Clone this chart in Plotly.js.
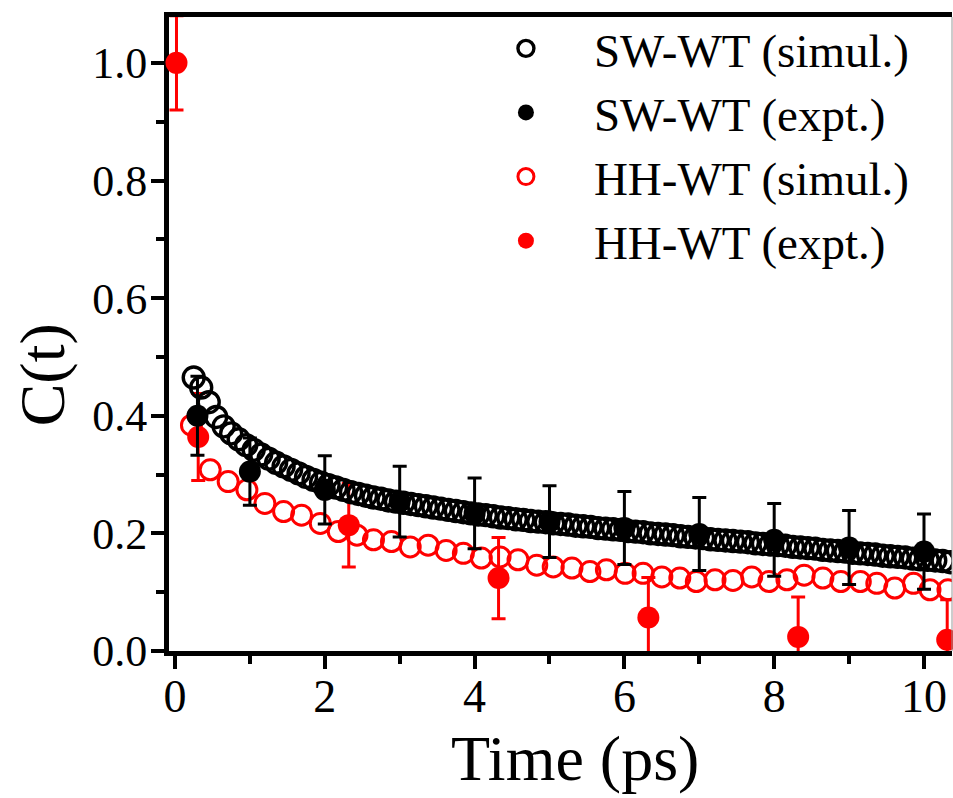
<!DOCTYPE html>
<html>
<head>
<meta charset="utf-8">
<script src="https://cdn.plot.ly/plotly-3.0.1.min.js"></script>
<style>html,body{margin:0;padding:0;background:#fff;}#chart{width:953px;height:798px;}</style>
</head>
<body>
<div id="chart"></div>
<script>
// SW-WT simulation (dense open black circles)
var swSimT = [0.25,0.35,0.45,0.55,0.65,0.75,0.85,0.95,1.05,1.15,1.25,1.35,1.45,1.55,1.65,1.75,1.85,1.95,2.05,2.15,2.25,2.35,2.45,2.55,2.65,2.75,2.85,2.95,3.05,3.15,3.25,3.35,3.45,3.55,3.65,3.75,3.85,3.95,4.05,4.15,4.25,4.35,4.45,4.55,4.65,4.75,4.85,4.95,5.05,5.15,5.25,5.35,5.45,5.55,5.65,5.75,5.85,5.95,6.05,6.15,6.25,6.35,6.45,6.55,6.65,6.75,6.85,6.95,7.05,7.15,7.25,7.35,7.45,7.55,7.65,7.75,7.85,7.95,8.05,8.15,8.25,8.35,8.45,8.55,8.65,8.75,8.85,8.95,9.05,9.15,9.25,9.35,9.45,9.55,9.65,9.75,9.85,9.95,10.05,10.15,10.25,10.35];
var swSimC = [0.465,0.448,0.423,0.398,0.382,0.370,0.360,0.350,0.342,0.334,0.327,0.320,0.314,0.308,0.302,0.296,0.291,0.286,0.282,0.278,0.274,0.270,0.267,0.264,0.261,0.259,0.256,0.254,0.252,0.250,0.248,0.246,0.244,0.242,0.240,0.238,0.236,0.234,0.232,0.231,0.229,0.227,0.226,0.224,0.223,0.221,0.220,0.219,0.217,0.216,0.215,0.213,0.212,0.211,0.209,0.208,0.207,0.206,0.204,0.203,0.202,0.200,0.199,0.198,0.197,0.195,0.194,0.193,0.192,0.190,0.189,0.188,0.187,0.186,0.185,0.183,0.182,0.181,0.180,0.179,0.177,0.176,0.175,0.174,0.172,0.171,0.170,0.169,0.167,0.166,0.165,0.164,0.162,0.161,0.160,0.159,0.157,0.156,0.155,0.154,0.153,0.151];

// SW-WT experiment (filled black)
var swExpT = [0.3,1,2,3,4,5,6,7,8,9,10];
var swExpC = [0.400,0.305,0.274,0.254,0.234,0.220,0.209,0.199,0.189,0.176,0.169];
var swExpErr = [0.067,0.057,0.058,0.060,0.060,0.061,0.062,0.062,0.062,0.063,0.064];

// HH-WT simulation (open red circles)
var hhSimT = [0.22,0.47,0.71,0.96,1.20,1.45,1.69,1.94,2.18,2.43,2.65,2.89,3.14,3.38,3.62,3.85,4.09,4.34,4.58,4.83,5.05,5.30,5.54,5.76,6.01,6.25,6.50,6.74,6.96,7.21,7.45,7.70,7.93,8.17,8.40,8.65,8.89,9.15,9.37,9.61,9.86,10.08,10.32];
var hhSimC = [0.384,0.308,0.288,0.274,0.251,0.237,0.231,0.217,0.203,0.197,0.189,0.186,0.177,0.180,0.171,0.166,0.158,0.160,0.155,0.146,0.143,0.141,0.135,0.138,0.132,0.132,0.126,0.124,0.118,0.121,0.120,0.126,0.118,0.121,0.129,0.124,0.118,0.118,0.115,0.107,0.115,0.104,0.104];

// HH-WT experiment (filled red)
var hhExpT = [0.02,0.31,2.32,4.32,6.32,8.32,10.31];
var hhExpC = [1.0,0.364,0.214,0.124,0.057,0.024,0.019];
var hhExpErr = [0.08,0.074,0.071,0.069,0.068,0.068,0.068];

var names = ['SW-WT (simul.)','SW-WT (expt.)','HH-WT (simul.)','HH-WT (expt.)'];
var xTitle = 'Time (ps)';
var yTitle = 'C(t)';

var traces = [
  {x: hhSimT, y: hhSimC, name: names[2], type:'scatter', mode:'markers', legendrank:3,
   marker:{symbol:'circle-open', size:20, color:'#ff0000', line:{width:3,color:'#ff0000'}}},
  {x: hhExpT, y: hhExpC, name: names[3], type:'scatter', mode:'markers', legendrank:4, cliponaxis:false,
   marker:{symbol:'circle', size:22, color:'#ff0000'},
   error_y:{type:'data', array:hhExpErr, visible:true, color:'#ff0000', thickness:3, width:7}},
  {x: swExpT, y: swExpC, name: names[1], type:'scatter', mode:'markers', legendrank:2,
   marker:{symbol:'circle', size:22, color:'#000'},
   error_y:{type:'data', array:swExpErr, visible:true, color:'#000', thickness:3, width:7}},
  {x: swSimT, y: swSimC, name: names[0], type:'scatter', mode:'markers', legendrank:1,
   marker:{symbol:'circle-open', size:21, color:'#000', line:{width:3.4,color:'#000'}}}
];

var font = 'Liberation Serif, Times New Roman, serif';
var layout = {
  width:953, height:798,
  margin:{l:169, r:1, t:17, b:147},
  paper_bgcolor:'#fff', plot_bgcolor:'#fff',
  showlegend:true,
  font:{family:font, color:'#000'},
  legend:{x:0.369, y:1.009, xanchor:'left', yanchor:'top', bgcolor:'rgba(0,0,0,0)',
          font:{family:font, size:47, color:'#000'}, itemwidth:126, tracegroupgap:0},
  xaxis:{range:[-0.08,10.374], dtick:2, tick0:0, showgrid:false, zeroline:false,
         showline:true, linecolor:'#000', linewidth:5, mirror:true,
         ticks:'outside', ticklen:13, tickwidth:4, tickcolor:'#000', ticklabelstandoff:-12,
         minor:{dtick:1, ticks:'outside', ticklen:8, tickwidth:4, tickcolor:'#000'},
         tickfont:{family:font, size:46, color:'#000'},
         layer:'below traces'},
  yaxis:{range:[0,1.078], dtick:0.2, tick0:0, tickformat:'.1f', showgrid:false, zeroline:false,
         showline:true, linecolor:'#000', linewidth:5,
         ticks:'outside', ticklen:13, tickwidth:4, tickcolor:'#000', ticklabelstandoff:-5,
         minor:{dtick:0.1, ticks:'outside', ticklen:8, tickwidth:4, tickcolor:'#000'},
         tickfont:{family:font, size:44, color:'#000'},
         layer:'below traces'},
  annotations:[
    {text:xTitle, xref:'paper', yref:'paper', x:0.5185, y:-0.169, xanchor:'center', yanchor:'middle',
     showarrow:false, font:{family:font, size:64, color:'#000'}},
    {text:yTitle, xref:'paper', yref:'paper', x:-0.162, y:0.435, xanchor:'center', yanchor:'middle',
     textangle:-90, showarrow:false, font:{family:font, size:64, color:'#000'}}
  ],
  shapes:[{type:'line', xref:'paper', yref:'paper', x0:1, x1:1, y0:0, y1:1, line:{color:'#999', width:1}}]
};

Plotly.newPlot('chart', traces, layout, {displayModeBar:false, staticPlot:true});
</script>
</body>
</html>
